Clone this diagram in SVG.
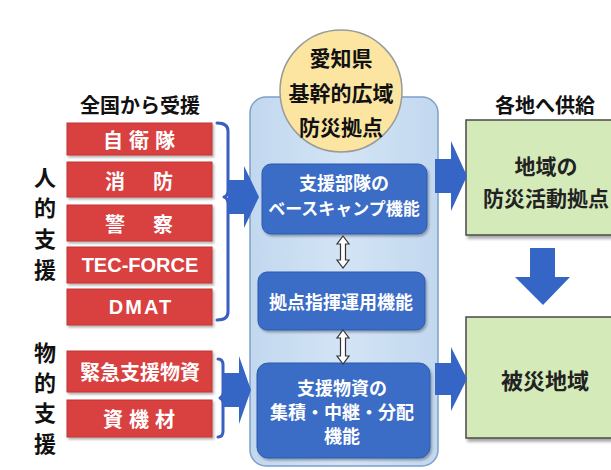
<svg xmlns="http://www.w3.org/2000/svg" width="611" height="470" viewBox="0 0 611 470">
<defs>
<filter id="sh" x="-10%" y="-10%" width="130%" height="140%">
<feDropShadow dx="2" dy="3" stdDeviation="1.5" flood-color="#000" flood-opacity="0.35"/>
</filter>
<filter id="sh2" x="-10%" y="-10%" width="130%" height="140%">
<feDropShadow dx="1.5" dy="2" stdDeviation="1.2" flood-color="#000" flood-opacity="0.3"/>
</filter>
<linearGradient id="cont" x1="0" y1="0" x2="1" y2="0">
<stop offset="0" stop-color="#c2d8ef"/>
<stop offset="0.5" stop-color="#d3e4f5"/>
<stop offset="1" stop-color="#c2d8ef"/>
</linearGradient>
</defs>
<style>
text{font-family:"Noto Sans CJK JP","Noto Sans CJK SC",sans-serif;text-anchor:middle;dominant-baseline:central;}
.lab{font-size:20px;fill:#111;font-weight:bold;}
.side{font-size:22px;fill:#111;font-weight:bold;}
.red rect{fill:#d9403f;stroke:#c23434;stroke-width:1;filter:url(#sh2);}
.red text{fill:#fff;font-size:20px;font-weight:bold;}
.red text.lat{font-family:"Liberation Sans",Arial,sans-serif;}
.blue rect{fill:#3a6cc6;stroke:#2d5bb0;stroke-width:1;filter:url(#sh2);}
.blue text{fill:#fff;font-size:18px;font-weight:bold;}
.green rect{fill:#d4eab9;stroke:#4a4a4a;stroke-width:1.5;filter:url(#sh);}
.green text{fill:#222;font-size:21px;font-weight:bold;}
.arr{fill:#3566c6;}
.brk{fill:none;stroke:#3a5fc0;stroke-width:3;stroke-linecap:round;stroke-linejoin:round;}
.dbl{fill:#fff;stroke:#333;stroke-width:1.2;}
</style>

<g id="label-zenkoku"><text class="lab" x="140" y="104">全国から受援</text></g>
<g id="label-kakuchi"><text class="lab" x="545" y="104">各地へ供給</text></g>

<g id="label-jinteki">
<text class="side" x="45" y="176">人</text>
<text class="side" x="45" y="206">的</text>
<text class="side" x="45" y="237">支</text>
<text class="side" x="45" y="268">援</text>
</g>
<g id="label-butteki">
<text class="side" x="45" y="351">物</text>
<text class="side" x="45" y="381">的</text>
<text class="side" x="45" y="411">支</text>
<text class="side" x="45" y="442">援</text>
</g>

<g id="jieitai" class="red"><rect x="67" y="123" width="145" height="32"/><text x="113" y="139">自</text><text x="139" y="139">衛</text><text x="165" y="139">隊</text></g>
<g id="shobo" class="red"><rect x="67" y="162" width="145" height="35"/><text x="115" y="180">消</text><text x="163" y="180">防</text></g>
<g id="keisatsu" class="red"><rect x="67" y="205" width="145" height="36"/><text x="115" y="223">警</text><text x="163" y="223">察</text></g>
<g id="tecforce" class="red"><rect x="67" y="247" width="145" height="36"/><text class="lat" x="140" y="265">TEC-FORCE</text></g>
<g id="dmat" class="red"><rect x="67" y="289" width="145" height="36"/><text class="lat" x="141" y="307" letter-spacing="2">DMAT</text></g>
<g id="kinkyu" class="red"><rect x="67" y="351" width="145" height="41"/><text x="140" y="371">緊急支援物資</text></g>
<g id="shikizai" class="red"><rect x="67" y="400" width="145" height="37"/><text x="113" y="418">資</text><text x="139" y="418">機</text><text x="165" y="418">材</text></g>

<g id="hub">
<rect x="250" y="97" width="188" height="369" rx="16" fill="url(#cont)" stroke="#7f9fc8" stroke-width="1.5"/>
</g>

<g id="hub-title">
<circle cx="341" cy="91" r="61" fill="#fbe5a0" stroke="#9a9a9a" stroke-width="1.5"/>
<text class="lab" x="341" y="57" style="font-size:21px">愛知県</text>
<text class="lab" x="341" y="92" style="font-size:21px">基幹的広域</text>
<text class="lab" x="341" y="126" style="font-size:21px">防災拠点</text>
</g>

<g id="basecamp" class="blue"><rect x="262" y="164" width="165" height="70" rx="9"/>
<text x="344" y="182">支援部隊の</text><text x="344" y="207" style="font-size:17px">ベースキャンプ機能</text></g>
<g id="shiki" class="blue"><rect x="258" y="272" width="167" height="58" rx="9"/>
<text x="341" y="301">拠点指揮運用機能</text></g>
<g id="busshi" class="blue"><rect x="257" y="363" width="173" height="95" rx="11"/>
<text x="342" y="387">支援物資の</text><text x="342" y="411">集積・中継・分配</text><text x="342" y="435">機能</text></g>

<g id="chiiki" class="green"><rect x="466" y="120" width="160" height="115"/>
<text x="546" y="165">地域の</text><text x="546" y="197">防災活動拠点</text></g>
<g id="hisai" class="green"><rect x="466" y="317" width="160" height="121"/>
<text x="545" y="379" style="font-size:22px">被災地域</text></g>

<g id="connectors">
<path class="brk" d="M217,123 Q228,123 228,131 L228,190 Q228,196 224,197 Q228,198 228,204 L228,312 Q228,320 217,320"/>
<path class="brk" d="M218,359 Q223,359 223,365 L223,393 Q223,397 220,398 Q223,399 223,403 L223,431 Q223,437 218,437"/>
<polygon class="arr" points="228,180 244,180 244,166 259,197 244,228 244,214 228,214"/>
<polygon class="arr" points="223,373 239,373 239,356 251,390 239,424 239,407 223,407"/>
<polygon class="arr" points="435,159 451,159 451,141 467,176 451,211 451,193 435,193"/>
<polygon class="arr" points="435,363 451,363 451,347 467,379 451,411 451,395 435,395"/>
<polygon class="arr" points="530,248 555,248 555,277 570,277 543,305 515,277 530,277"/>
<polygon class="dbl" points="343,236 349,244 345.5,244 345.5,260 349,260 343,268 337,260 340.5,260 340.5,244 337,244"/>
<polygon class="dbl" points="343,330 349,338 345.5,338 345.5,356 349,356 343,364 337,356 340.5,356 340.5,338 337,338"/>
</g>
</svg>
